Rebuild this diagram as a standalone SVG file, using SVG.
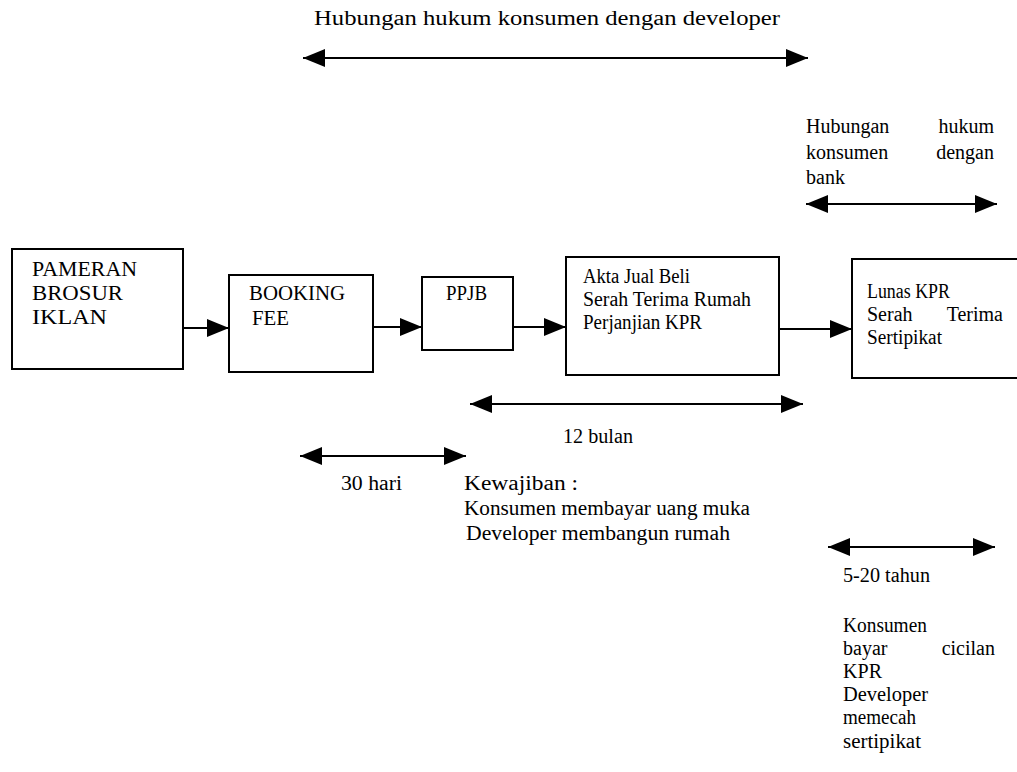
<svg xmlns="http://www.w3.org/2000/svg" width="1017" height="772" viewBox="0 0 1017 772" font-family="'Liberation Serif','Times New Roman',serif">
<defs>
<style>
text{font-family:"Liberation Serif","Times New Roman",serif;font-size:20px;fill:#000}
.box{fill:#fff;stroke:#000;stroke-width:2}
.ln{stroke:#000;stroke-width:2;fill:none}
.e{text-anchor:end}
</style>
<marker id="ah" viewBox="0 0 22 18" refX="22" refY="9" markerWidth="22" markerHeight="18" markerUnits="userSpaceOnUse" orient="auto-start-reverse">
<path d="M0,0 L22,9 L0,18 Z" fill="#000"/>
</marker>
</defs>
<rect width="1017" height="772" fill="#fff"/>

<g id="spans">
<g id="span-developer">
<text x="314" y="25" textLength="466" lengthAdjust="spacingAndGlyphs">Hubungan hukum konsumen dengan developer</text>
<line class="ln" x1="303" y1="58" x2="808" y2="58" marker-start="url(#ah)" marker-end="url(#ah)"/>
</g>
<g id="span-bank">
<text><tspan x="806" y="133">Hubungan</tspan><tspan class="e" x="994" y="133">hukum</tspan></text>
<text><tspan x="806" y="159">konsumen</tspan><tspan class="e" x="994" y="159">dengan</tspan></text>
<text x="806" y="184">bank</text>
<line class="ln" x1="806" y1="204" x2="997" y2="204" marker-start="url(#ah)" marker-end="url(#ah)"/>
</g>
<g id="span-12bulan">
<line class="ln" x1="470" y1="404" x2="803" y2="404" marker-start="url(#ah)" marker-end="url(#ah)"/>
<text x="563" y="443" textLength="70" lengthAdjust="spacingAndGlyphs">12 bulan</text>
</g>
<g id="span-30hari">
<line class="ln" x1="300" y1="456" x2="466" y2="456" marker-start="url(#ah)" marker-end="url(#ah)"/>
<text x="341" y="490" textLength="61" lengthAdjust="spacingAndGlyphs">30 hari</text>
</g>
<g id="note-kewajiban">
<text x="464" y="490" textLength="114" lengthAdjust="spacingAndGlyphs">Kewajiban :</text>
<text x="464" y="515" textLength="286" lengthAdjust="spacingAndGlyphs">Konsumen membayar uang muka</text>
<text x="466" y="540" textLength="264" lengthAdjust="spacingAndGlyphs">Developer membangun rumah</text>
</g>
<g id="span-tahun">
<line class="ln" x1="828" y1="547" x2="995" y2="547" marker-start="url(#ah)" marker-end="url(#ah)"/>
<text x="843" y="582" textLength="87" lengthAdjust="spacingAndGlyphs">5-20 tahun</text>
</g>
<g id="note-cicilan">
<text x="843" y="632" textLength="84" lengthAdjust="spacingAndGlyphs">Konsumen</text>
<text><tspan x="843" y="655">bayar</tspan><tspan class="e" x="995" y="655">cicilan</tspan></text>
<text x="843" y="678" textLength="39" lengthAdjust="spacingAndGlyphs">KPR</text>
<text x="843" y="701" textLength="85" lengthAdjust="spacingAndGlyphs">Developer</text>
<text x="843" y="724" textLength="73" lengthAdjust="spacingAndGlyphs">memecah</text>
<text x="843" y="748" textLength="78" lengthAdjust="spacingAndGlyphs">sertipikat</text>
</g>
</g>

<g id="connectors">
<line class="ln" x1="183" y1="328" x2="229" y2="328" marker-end="url(#ah)"/>
<line class="ln" x1="373" y1="327" x2="422" y2="327" marker-end="url(#ah)"/>
<line class="ln" x1="513" y1="327" x2="566" y2="327" marker-end="url(#ah)"/>
<line class="ln" x1="779" y1="329" x2="852" y2="329" marker-end="url(#ah)"/>
</g>

<g id="node-pameran">
<rect class="box" x="12" y="249" width="171" height="120"/>
<text x="32" y="276" textLength="105" lengthAdjust="spacingAndGlyphs">PAMERAN</text>
<text x="32" y="300" textLength="91" lengthAdjust="spacingAndGlyphs">BROSUR</text>
<text x="32" y="324" textLength="75" lengthAdjust="spacingAndGlyphs">IKLAN</text>
</g>
<g id="node-booking">
<rect class="box" x="229" y="275" width="144" height="97"/>
<text x="249" y="300" textLength="96" lengthAdjust="spacingAndGlyphs">BOOKING</text>
<text x="252" y="325" textLength="37" lengthAdjust="spacingAndGlyphs">FEE</text>
</g>
<g id="node-ppjb">
<rect class="box" x="422" y="277" width="91" height="73"/>
<text x="446" y="300" textLength="41" lengthAdjust="spacingAndGlyphs">PPJB</text>
</g>
<g id="node-akta">
<rect class="box" x="566" y="257" width="213" height="118"/>
<text x="583" y="283" textLength="107" lengthAdjust="spacingAndGlyphs">Akta Jual Beli</text>
<text x="583" y="306" textLength="168" lengthAdjust="spacingAndGlyphs">Serah Terima Rumah</text>
<text x="583" y="329" textLength="119" lengthAdjust="spacingAndGlyphs">Perjanjian KPR</text>
</g>
<g id="node-lunas">
<rect class="box" x="852" y="259" width="175" height="119"/>
<text x="867" y="298" textLength="83" lengthAdjust="spacingAndGlyphs">Lunas KPR</text>
<text><tspan x="867" y="321">Serah</tspan><tspan class="e" x="1003" y="321">Terima</tspan></text>
<text x="867" y="344" textLength="75" lengthAdjust="spacingAndGlyphs">Sertipikat</text>
</g>
</svg>
